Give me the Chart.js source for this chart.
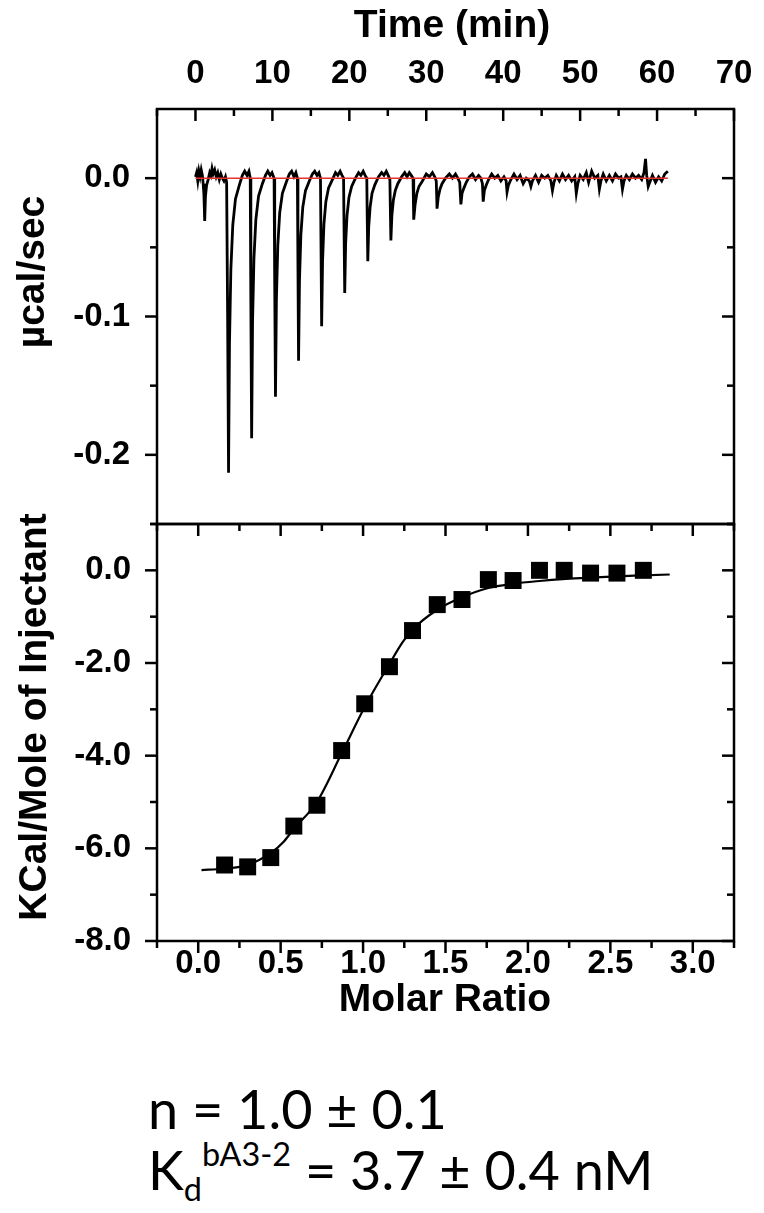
<!DOCTYPE html>
<html>
<head>
<meta charset="utf-8">
<script src="https://cdn.jsdelivr.net/npm/chart.js@4.4.1/dist/chart.umd.min.js"></script>
<style>
  body { margin: 0; background: #fff; }
  #wrap { position: relative; width: 764px; height: 1213px; overflow: hidden; background: #fff; }
  canvas { position: absolute; left: 0; }
  #top-chart { top: 0; }
  #bottom-chart { top: 460px; }
  .note { position: absolute; left: 148px; font-family: Lato, "Open Sans", sans-serif; font-size: 54px; line-height: 1; color: #000; white-space: nowrap; }
  .sub { font-size: 60%; position: relative; top: 11px; }
  .sup { font-size: 60%; position: relative; top: -24px; }
</style>
</head>
<body>
<div id="wrap">
  <canvas id="top-chart" width="764" height="530"></canvas>
  <canvas id="bottom-chart" width="764" height="600"></canvas>
  <div class="note" style="top:1082px">n = 1.0 ± 0.1</div>
  <div class="note" style="top:1143px">K<span class="sub">d</span><span class="sup">bA3-2</span> = 3.7 ± 0.4 nM</div>
</div>
<script>
// raw thermogram, [time (min), µcal/sec]
var trace = [
  [0.0,0.001],[0.15,0.004],[0.3,-0.002],[0.45,0.005],[0.6,0.001],[0.75,0.006],[0.9,0.002],[1.0,-0.004],[1.1,-0.012],[1.2,-0.031],[1.3,-0.013],[1.45,-0.005],[1.65,-0.001],[1.85,0.004],[2.0,0.002],[2.15,0.007],[2.3,0.003],[2.5,0.006],[2.7,0.001],[2.9,0.004],[3.1,-0.001],[3.3,0.003],[3.5,0.0],[3.7,-0.002],[3.9,0.001],[4.05,-0.003],
  [4.18,-0.10],[4.3,-0.213],[4.42,-0.12],[4.6,-0.066],[4.85,-0.034],[5.2,-0.015],[5.7,-0.005],[6.1,0.002],[6.4,0.005],[6.7,0.002],[6.95,0.005],[7.12,0.0],
  [7.2,-0.09],[7.3,-0.188],[7.42,-0.104],[7.6,-0.058],[7.85,-0.030],[8.2,-0.013],[8.7,-0.004],[9.1,0.002],[9.4,0.005],[9.7,0.002],[9.95,0.004],[10.22,0.0],
  [10.3,-0.075],[10.4,-0.158],[10.52,-0.088],[10.7,-0.049],[10.95,-0.025],[11.3,-0.011],[11.8,-0.003],[12.2,0.003],[12.5,0.005],[12.8,0.001],[13.05,0.004],[13.25,0.0],
  [13.32,-0.062],[13.4,-0.132],[13.52,-0.074],[13.7,-0.041],[13.95,-0.021],[14.3,-0.009],[14.8,-0.002],[15.2,0.003],[15.5,0.005],[15.8,0.002],[16.05,0.004],[16.25,0.0],
  [16.32,-0.05],[16.4,-0.107],[16.52,-0.060],[16.7,-0.033],[16.95,-0.017],[17.3,-0.007],[17.8,-0.001],[18.2,0.004],[18.5,0.002],[18.8,0.005],[19.05,0.002],[19.25,0.0],
  [19.32,-0.04],[19.4,-0.083],[19.52,-0.047],[19.7,-0.027],[19.95,-0.014],[20.3,-0.006],[20.8,0.0],[21.2,0.004],[21.5,0.002],[21.8,0.005],[22.05,0.002],[22.27,0.0],
  [22.33,-0.03],[22.4,-0.060],[22.52,-0.035],[22.7,-0.021],[22.95,-0.011],[23.3,-0.005],[23.8,0.001],[24.2,0.004],[24.5,0.002],[24.8,0.005],[25.05,0.002],[25.27,-0.001],
  [25.33,-0.022],[25.4,-0.045],[25.53,-0.027],[25.72,-0.016],[25.97,-0.009],[26.3,-0.004],[26.8,0.001],[27.2,0.004],[27.5,0.001],[27.8,0.004],[28.05,0.002],[28.28,0.0],
  [28.34,-0.015],[28.4,-0.030],[28.55,-0.019],[28.78,-0.011],[29.05,-0.006],[29.5,-0.002],[30.0,0.003],[30.4,0.001],[30.8,0.004],[31.1,0.001],[31.3,-0.002],
  [31.4,-0.022],[31.55,-0.014],[31.78,-0.008],[32.05,-0.004],[32.5,0.0],[33.0,0.003],[33.4,0.0],[33.8,0.003],[34.1,0.0],[34.35,-0.003],
  [34.5,-0.019],[34.65,-0.011],[34.9,-0.007],[35.2,-0.003],[35.6,0.001],[36.0,0.003],[36.4,-0.001],[36.8,0.002],[37.1,0.0],[37.3,-0.004],
  [37.4,-0.017],[37.55,-0.009],[37.8,-0.005],[38.1,-0.001],[38.5,0.003],[38.9,0.0],[39.3,0.002],[39.7,-0.002],[40.1,0.001],[40.38,-0.002],
  [40.5,-0.010],[40.68,-0.005],[41.0,-0.001],[41.4,0.003],[41.8,-0.001],[42.2,0.002],[42.6,-0.004],[43.0,0.0],[43.4,-0.002],
  [43.6,-0.006],[43.8,-0.002],[44.2,0.002],[44.6,-0.003],[45.0,0.002],[45.4,0.0],[45.8,0.002],[46.2,-0.002],
  [46.4,-0.009],[46.6,-0.003],[46.9,0.002],[47.3,-0.002],[47.7,0.003],[48.1,-0.001],[48.5,0.002],[48.9,-0.002],[49.3,0.001],
  [49.5,-0.011],[49.7,-0.004],[50.0,0.002],[50.4,-0.001],[50.8,0.004],[51.1,-0.003],[51.5,0.005],[51.9,0.0],[52.3,0.002],
  [52.5,-0.008],[52.7,-0.002],[53.0,0.003],[53.4,-0.002],[53.8,0.002],[54.2,-0.002],[54.6,0.003],[55.0,0.0],[55.3,0.001],
  [55.5,-0.008],[55.7,-0.002],[56.0,0.002],[56.4,-0.001],[56.8,0.003],[57.2,0.0],[57.6,0.002],[58.0,-0.001],[58.3,0.004],[58.5,0.014],[58.65,0.002],[58.85,-0.006],[59.05,-0.003],[59.4,0.002],[59.8,-0.003],[60.2,0.001],[60.6,-0.002],[61.0,0.003],[61.4,0.005]
];
var baseline = [[0, 0], [61.4, 0]];

// integrated heats
var molarRatio = [0.16, 0.30, 0.44, 0.58, 0.72, 0.87, 1.01, 1.16, 1.30, 1.45, 1.60, 1.76, 1.91, 2.07, 2.22, 2.38, 2.54, 2.70];
var heat = [-6.36, -6.40, -6.20, -5.52, -5.07, -3.89, -2.88, -2.08, -1.30, -0.74, -0.63, -0.20, -0.22, 0.00, 0.00, -0.06, -0.06, 0.00];

// fitted curve
var fitX = [0.02, 0.15, 0.30, 0.44, 0.52, 0.58, 0.72, 0.87, 1.01, 1.16, 1.24, 1.30, 1.45, 1.60, 1.76, 1.91, 2.07, 2.21, 2.38, 2.54, 2.70, 2.86];
var fitY = [-6.47, -6.44, -6.36, -6.10, -5.85, -5.58, -5.00, -3.95, -2.95, -2.02, -1.55, -1.28, -0.85, -0.58, -0.38, -0.29, -0.23, -0.19, -0.16, -0.13, -0.11, -0.09];

// ticks
var timeTicks = [0, 10, 20, 30, 40, 50, 60, 70];
var timeMinor = [-5, 5, 15, 25, 35, 45, 55, 65];
var rateTicks = [0, -0.1, -0.2];
var rateMinor = [-0.05, -0.15, -0.25];
var molarTicks = [0, 0.5, 1.0, 1.5, 2.0, 2.5, 3.0];
var molarMinor = [-0.25, 0.25, 0.75, 1.25, 1.75, 2.25, 2.75, 3.25];
var heatTicks = [0, -2, -4, -6, -8];
var heatMinor = [1, -1, -3, -5, -7];

var tickFont = { family: '"Liberation Sans", Arial, sans-serif', size: 33, weight: 'bold' };
var titleFont = 'bold 39px "Liberation Sans", Arial, sans-serif';

// frame box, Origin style tick marks and axis titles
function framePlugin(cfg) {
    return {
        id: 'frame',
        afterDraw: function(chart) {
            var ctx = chart.ctx, a = chart.chartArea;
            var xs = chart.scales.x, ys = chart.scales.y;
            ctx.save();
            ctx.strokeStyle = '#000';
            ctx.lineWidth = 2.5;
            ctx.strokeRect(a.left, a.top, a.right - a.left, a.bottom - a.top);
            function mark(vals, len, edge, dir) {
                vals.forEach(function(v) {
                    ctx.beginPath();
                    if (edge == 'top' || edge == 'bottom') {
                        var px = xs.getPixelForValue(v);
                        var py = edge == 'top' ? a.top : a.bottom;
                        var s = ((edge == 'top') == (dir == 'in')) ? 1 : -1;
                        ctx.moveTo(px, py);
                        ctx.lineTo(px, py + s * len);
                    } else {
                        var py2 = ys.getPixelForValue(v);
                        var px2 = edge == 'left' ? a.left : a.right;
                        var s2 = ((edge == 'left') == (dir == 'in')) ? 1 : -1;
                        ctx.moveTo(px2, py2);
                        ctx.lineTo(px2 + s2 * len, py2);
                    }
                    ctx.stroke();
                });
            }
            cfg.edges.forEach(function(e) {
                var isX = e[0] == 'top' || e[0] == 'bottom';
                mark(isX ? cfg.xMajor : cfg.yMajor, 12, e[0], e[1]);
                mark(isX ? cfg.xMinor : cfg.yMinor, 7, e[0], e[1]);
            });
            cfg.titles.forEach(function(t) {
                ctx.save();
                ctx.font = titleFont;
                ctx.fillStyle = '#000';
                ctx.textAlign = 'center';
                ctx.textBaseline = 'alphabetic';
                ctx.translate(t.x, t.y);
                if (t.rot) ctx.rotate(-Math.PI / 2);
                ctx.fillText(t.text, 0, 0);
                ctx.restore();
            });
            ctx.restore();
        }
    };
}

function fixTicks(list) {
    return function(scale) { scale.ticks = list.map(function(v) { return { value: v }; }); };
}
function noPad(scale) {
    scale.paddingTop = 0; scale.paddingBottom = 0; scale.paddingLeft = 0; scale.paddingRight = 0;
}

var topChart = new Chart(document.getElementById('top-chart'), {
    type: 'line',
    data: {
        datasets: [{
            data: baseline.map(function(p) { return { x: p[0], y: p[1] }; }),
            borderColor: '#e8302c',
            borderWidth: 1.5,
            pointRadius: 0,
            order: 0
        }, {
            data: trace.map(function(p) { return { x: p[0], y: p[1] }; }),
            borderColor: '#000',
            borderWidth: 2.8,
            pointRadius: 0,
            tension: 0,
            order: 1
        }]
    },
    options: {
        responsive: false,
        animation: false,
        devicePixelRatio: 1,
        layout: { autoPadding: false, padding: { top: 0, left: 0, right: 30, bottom: 6 } },
        plugins: { legend: { display: false }, tooltip: { enabled: false } },
        scales: {
            x: {
                type: 'linear', position: 'top', min: -5, max: 70,
                afterBuildTicks: fixTicks(timeTicks),
                afterFit: function(s) { noPad(s); s.height = 109; },
                grid: { display: false, drawTicks: false },
                border: { display: false },
                ticks: { autoSkip: false, maxRotation: 0, padding: 15, color: '#000', font: tickFont,
                         callback: function(v) { return String(v); } }
            },
            y: {
                type: 'linear', min: -0.25, max: 0.05,
                afterBuildTicks: fixTicks(rateTicks),
                afterFit: function(s) { noPad(s); s.width = 157; },
                grid: { display: false, drawTicks: false },
                border: { display: false },
                ticks: { autoSkip: false, padding: 27, color: '#000', font: tickFont,
                         callback: function(v) { return v.toFixed(1); } }
            }
        }
    },
    plugins: [framePlugin({
        edges: [['top', 'in'], ['left', 'out'], ['right', 'in']],
        xMajor: timeTicks, xMinor: timeMinor, yMajor: rateTicks, yMinor: rateMinor,
        titles: [
            { text: 'Time (min)', x: 452, y: 37 },
            { text: 'µcal/sec', x: 44, y: 272, rot: true }
        ]
    })]
});

var bottomChart = new Chart(document.getElementById('bottom-chart'), {
    type: 'line',
    data: {
        datasets: [{
            type: 'scatter',
            data: molarRatio.map(function(x, i) { return { x: x, y: heat[i] }; }),
            pointStyle: 'rect',
            pointRadius: 12,
            backgroundColor: '#000',
            borderColor: '#000',
            borderWidth: 0,
            order: 0
        }, {
            data: fitX.map(function(x, i) { return { x: x, y: fitY[i] }; }),
            borderColor: '#000',
            borderWidth: 2.2,
            pointRadius: 0,
            cubicInterpolationMode: 'monotone',
            order: 1
        }]
    },
    options: {
        responsive: false,
        animation: false,
        devicePixelRatio: 1,
        layout: { autoPadding: false, padding: { top: 64, left: 0, right: 30, bottom: 0 } },
        plugins: { legend: { display: false }, tooltip: { enabled: false } },
        scales: {
            x: {
                type: 'linear', position: 'bottom', min: -0.25, max: 3.25,
                afterBuildTicks: fixTicks(molarTicks),
                afterFit: function(s) { noPad(s); s.height = 119; },
                grid: { display: false, drawTicks: false },
                border: { display: false },
                ticks: { autoSkip: false, maxRotation: 0, padding: 3, color: '#000', font: tickFont,
                         callback: function(v) { return v.toFixed(1); } }
            },
            y: {
                type: 'linear', min: -8, max: 1,
                afterBuildTicks: fixTicks(heatTicks),
                afterFit: function(s) { noPad(s); s.width = 157; },
                grid: { display: false, drawTicks: false },
                border: { display: false },
                ticks: { autoSkip: false, padding: 26, color: '#000', font: tickFont,
                         callback: function(v) { return v.toFixed(1); } }
            }
        }
    },
    plugins: [framePlugin({
        edges: [['top', 'in'], ['bottom', 'out'], ['left', 'out'], ['right', 'in']],
        xMajor: molarTicks, xMinor: molarMinor, yMajor: heatTicks, yMinor: heatMinor,
        titles: [
            { text: 'KCal/Mole of Injectant', x: 46, y: 257, rot: true },
            { text: 'Molar Ratio', x: 445, y: 551 }
        ]
    })]
});
</script>
</body>
</html>
